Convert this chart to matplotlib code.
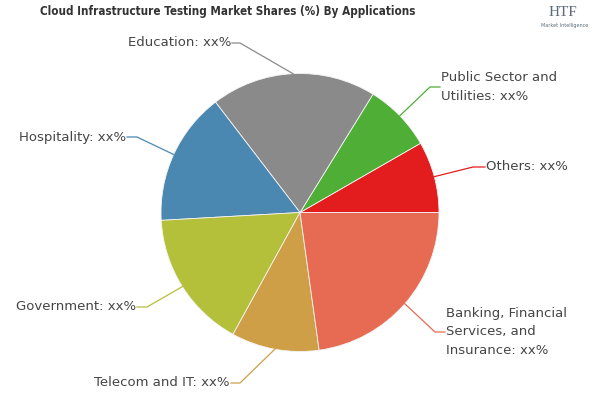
import numpy as np
import matplotlib.pyplot as plt
from matplotlib import font_manager

# Data (shares)
labels = ["Others: xx%",
          "Public Sector and\nUtilities: xx%",
          "Education: xx%",
          "Hospitality: xx%",
          "Government: xx%",
          "Telecom and IT: xx%",
          "Banking, Financial\nServices, and\nInsurance: xx%"]
shares = [8.3, 7.9, 19.2, 15.5, 16.1, 10.2, 22.8]
colors = ["#e31d1d", "#4fae35", "#8a8a8a", "#4a88b2", "#b4bf3a", "#cf9f47", "#e66b52"]
title = "Cloud Infrastructure Testing Market Shares (%) By Applications"

# figure in pixel coordinates (y up)
fig = plt.figure(figsize=(6, 4), dpi=100)
ax = fig.add_axes([0, 0, 1, 1])
ax.set_aspect("equal")
ax.axis("off")

cx, cy, r = 300, 187.5, 139
wedges, _ = ax.pie(shares, colors=colors, center=(cx, cy), radius=r, startangle=0,
                   counterclock=True, wedgeprops=dict(edgecolor="#f4f4f4", linewidth=0.6))
ax.set_xlim(0, 600)
ax.set_ylim(0, 400)

# leader line elbows, ends and text alignment (pixel coords, y up)
elbows = [(473, 233), (430, 313), (240, 357), (137, 263), (147, 93), (240, 17), (435, 68)]
ends = [(485, 233), (440, 313), (232, 357), (127, 263), (137, 93), (231, 17), (445, 68)]
aligns = ["left", "left", "right", "right", "right", "right", "left"]

for w, lab, el, en, ha, col in zip(wedges, labels, elbows, ends, aligns, colors):
    mid = np.deg2rad((w.theta1 + w.theta2) / 2)
    sx, sy = cx + r * np.cos(mid), cy + r * np.sin(mid)
    ax.plot([sx, el[0], en[0]], [sy, el[1], en[1]], color=col, lw=0.9)
    tx = en[0] + (1 if ha == "left" else -1)
    ax.text(tx, en[1], lab, ha=ha, va="center", fontsize=9.5, color="#454545",
            linespacing=1.55)

# title: fit it between x=42 and x=415
t = ax.text(228, 388, title, ha="center", va="center", fontsize=11, fontweight="bold",
            color="#333333", family="DejaVu Sans", fontstretch="condensed")
fig.canvas.draw()
bb = t.get_window_extent()
if bb.width > 375:
    t.set_fontsize(11 * 375 / bb.width)

# logo
ax.text(563, 388, "HTF", ha="center", va="center", fontsize=11, color="#5a6b7c",
        family="Liberation Serif")
ax.text(565, 374, "Market Intelligence", ha="center", va="center", fontsize=3.5,
        color="#5a6b7c")

fig.savefig("out.png", dpi=100)
